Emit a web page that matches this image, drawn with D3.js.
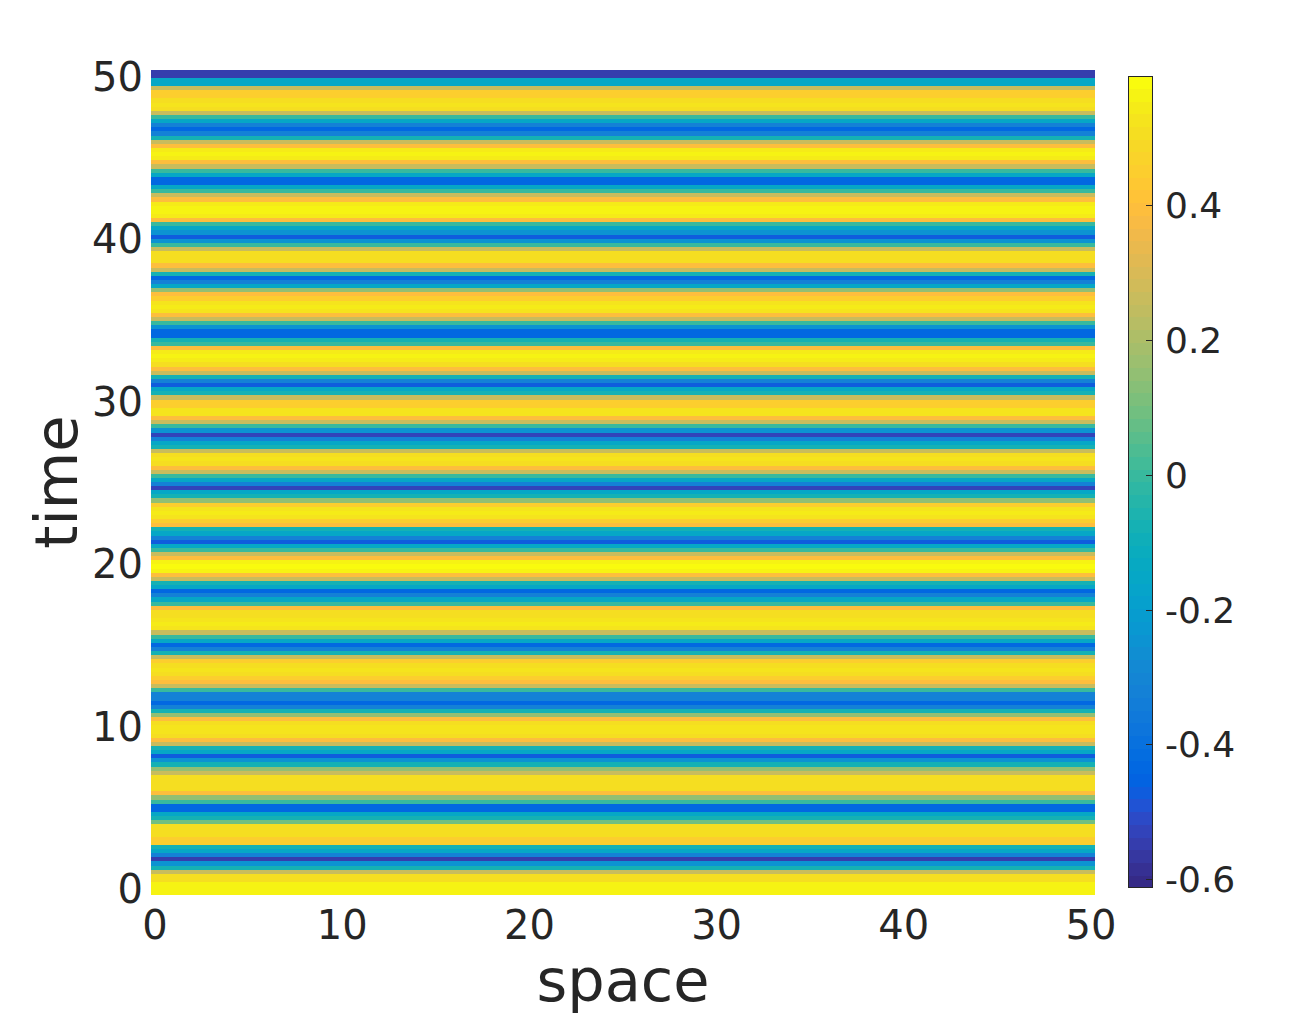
<!DOCTYPE html>
<html lang="en">
<head>
  <meta charset="UTF-8">
  <title>space-time plot</title>
  <script src="https://d3js.org/d3.v7.min.js"></script>
  <style>
    body { margin: 0; background: #fff; }
    svg text { font-family: "DejaVu Sans", sans-serif; fill: #262626; }
  </style>
</head>
<body>
<svg id="chart" width="1296" height="1020"></svg>
<script>
// u(t) for each row of the image, read top row first (t = 50 down to t = 0)
const uByRow = [
  -0.55, -0.55, -0.15, -0.15, 0.27, 0.45, 0.45, 0.5, 0.52, 0.5,
  0.27, 0.0, -0.15, -0.33, -0.43, -0.33, -0.08, 0.27, 0.4, 0.55,
  0.57, 0.55, 0.4, 0.27, 0.0, -0.15, -0.43, -0.43, -0.15, 0.0,
  0.27, 0.4, 0.55, 0.57, 0.57, 0.55, 0.4, 0.0, -0.15, -0.25,
  -0.47, -0.25, 0.0, 0.27, 0.5, 0.5, 0.5, 0.4, 0.27, -0.08,

  -0.43, -0.33, -0.15, 0.15, 0.4, 0.45, 0.53, 0.55, 0.53, 0.4,
  0.27, 0.0, -0.25, -0.43, -0.43, -0.08, 0.0, 0.4, 0.55, 0.57,
  0.55, 0.5, 0.4, 0.27, -0.08, -0.33, -0.47, -0.15, -0.08, 0.27,
  0.45, 0.45, 0.53, 0.53, 0.4, 0.27, 0.0, -0.25, -0.52, -0.33,
  -0.15, -0.08, 0.27, 0.5, 0.52, 0.5, 0.4, 0.27, 0.0, -0.15,

  -0.33, -0.52, -0.15, -0.08, 0.15, 0.45, 0.53, 0.55, 0.53, 0.45,
  0.4, -0.08, -0.15, -0.33, -0.47, -0.15, 0.0, 0.27, 0.4, 0.57,
  0.58, 0.57, 0.4, 0.27, -0.08, -0.15, -0.43, -0.33, -0.15, 0.0,
  0.4, 0.5, 0.5, 0.53, 0.55, 0.53, 0.27, 0.0, -0.15, -0.43,
  -0.33, -0.08, 0.27, 0.45, 0.5, 0.52, 0.5, 0.45, 0.4, 0.27,

  0.0, -0.33, -0.33, -0.43, -0.33, -0.08, 0.15, 0.4, 0.5, 0.52,
  0.52, 0.5, 0.4, 0.27, -0.08, -0.15, -0.47, -0.25, -0.08, 0.15,
  0.27, 0.5, 0.5, 0.5, 0.5, 0.4, 0.15, 0.0, -0.43, -0.43,
  -0.15, -0.08, 0.1, 0.5, 0.5, 0.5, 0.45, 0.45, -0.08, -0.15,
  -0.33, -0.55, -0.25, -0.08, 0.27, 0.5, 0.5, 0.57, 0.57, 0.57
];

// image extent in data units (cells hang a little past the axis limits)
const spaceExtent = [-0.2, 50.2];
const timeExtent = [-0.4, 50.4];

const xTicks = [0, 10, 20, 30, 40, 50];
const yTicks = [0, 10, 20, 30, 40, 50];
const cLimits = [-0.613, 0.592];
const cTicks = [-0.6, -0.4, -0.2, 0, 0.2, 0.4];
const cTickLabels = ["-0.6", "-0.4", "-0.2", "0", "0.2", "0.4"];

// parula(64)
const parula = [
  [0.2081,0.1663,0.5292],[0.2116,0.1898,0.5777],[0.2123,0.2138,0.6270],[0.2081,0.2386,0.6771],
  [0.1959,0.2645,0.7279],[0.1707,0.2919,0.7792],[0.1253,0.3242,0.8303],[0.0591,0.3598,0.8683],
  [0.0117,0.3875,0.8820],[0.0060,0.4086,0.8828],[0.0165,0.4266,0.8786],[0.0329,0.4430,0.8720],
  [0.0498,0.4586,0.8641],[0.0629,0.4737,0.8554],[0.0723,0.4887,0.8467],[0.0779,0.5040,0.8384],
  [0.0793,0.5200,0.8312],[0.0749,0.5375,0.8263],[0.0641,0.5570,0.8240],[0.0488,0.5772,0.8228],
  [0.0343,0.5966,0.8199],[0.0265,0.6137,0.8135],[0.0239,0.6287,0.8038],[0.0231,0.6418,0.7913],
  [0.0228,0.6535,0.7768],[0.0267,0.6642,0.7607],[0.0384,0.6743,0.7436],[0.0590,0.6838,0.7254],
  [0.0843,0.6928,0.7062],[0.1133,0.7015,0.6859],[0.1453,0.7098,0.6646],[0.1801,0.7177,0.6424],
  [0.2178,0.7250,0.6193],[0.2586,0.7317,0.5954],[0.3022,0.7376,0.5712],[0.3482,0.7424,0.5473],
  [0.3953,0.7459,0.5244],[0.4420,0.7481,0.5033],[0.4871,0.7491,0.4840],[0.5300,0.7491,0.4661],
  [0.5709,0.7485,0.4494],[0.6099,0.7473,0.4337],[0.6473,0.7456,0.4188],[0.6834,0.7435,0.4044],
  [0.7184,0.7411,0.3905],[0.7525,0.7384,0.3768],[0.7858,0.7356,0.3633],[0.8185,0.7327,0.3498],
  [0.8507,0.7299,0.3360],[0.8824,0.7274,0.3217],[0.9139,0.7258,0.3063],[0.9450,0.7261,0.2886],
  [0.9739,0.7314,0.2666],[0.9938,0.7455,0.2403],[0.9990,0.7653,0.2164],[0.9955,0.7861,0.1967],
  [0.9880,0.8066,0.1794],[0.9789,0.8271,0.1633],[0.9697,0.8481,0.1475],[0.9626,0.8705,0.1309],
  [0.9589,0.8949,0.1132],[0.9598,0.9218,0.0948],[0.9661,0.9514,0.0755],[0.9763,0.9831,0.0538]
].map(c => d3.rgb(c[0] * 255, c[1] * 255, c[2] * 255).formatHex());

const svg = d3.select("#chart");

const x = d3.scaleLinear().domain([0, 50]).range([155, 1091]);
const y = d3.scaleLinear().domain([0, 50]).range([888, 76]);
const color = d3.scaleQuantize().domain(cLimits).range(parula);

// image rows
const dt = (timeExtent[1] - timeExtent[0]) / uByRow.length;
svg.append("g")
  .attr("shape-rendering", "crispEdges")
  .selectAll("rect")
  .data(uByRow)
  .join("rect")
  .attr("x", x(spaceExtent[0]))
  .attr("width", x(spaceExtent[1]) - x(spaceExtent[0]))
  .attr("y", (d, i) => y(timeExtent[1] - i * dt))
  .attr("height", (d, i) => y(timeExtent[1] - (i + 1) * dt) - y(timeExtent[1] - i * dt) + 0.3)
  .attr("fill", d => color(d));

// tick labels
svg.append("g").selectAll("text")
  .data(xTicks)
  .join("text")
  .attr("x", d => x(d))
  .attr("y", 939)
  .attr("text-anchor", "middle")
  .attr("font-size", 40)
  .text(d => d);

svg.append("g").selectAll("text")
  .data(yTicks)
  .join("text")
  .attr("x", 143)
  .attr("y", d => y(d) + 15)
  .attr("text-anchor", "end")
  .attr("font-size", 40)
  .text(d => d);

// axis labels
svg.append("text")
  .attr("x", (x(0) + x(50)) / 2)
  .attr("y", 1001)
  .attr("text-anchor", "middle")
  .attr("font-size", 59)
  .text("space");

svg.append("text")
  .attr("transform", `translate(77,${(y(0) + y(50)) / 2}) rotate(-90)`)
  .attr("text-anchor", "middle")
  .attr("font-size", 59)
  .text("time");

// colorbar
const cb = { x: 1128, w: 25 };
const cy = d3.scaleLinear().domain(cLimits).range([888, 76]);
const step = (cLimits[1] - cLimits[0]) / parula.length;
const cbar = svg.append("g");
cbar.append("g")
  .attr("shape-rendering", "crispEdges")
  .selectAll("rect")
  .data(parula)
  .join("rect")
  .attr("x", cb.x)
  .attr("width", cb.w)
  .attr("y", (d, i) => cy(cLimits[0] + (i + 1) * step))
  .attr("height", (d, i) => cy(cLimits[0] + i * step) - cy(cLimits[0] + (i + 1) * step) + 0.3)
  .attr("fill", d => d);

cbar.append("rect")
  .attr("x", cb.x + 0.5)
  .attr("y", cy(cLimits[1]) + 0.5)
  .attr("width", cb.w - 1)
  .attr("height", cy(cLimits[0]) - cy(cLimits[1]) - 1)
  .attr("fill", "none")
  .attr("stroke", "#262626")
  .attr("stroke-width", 1);

cbar.selectAll("line")
  .data(cTicks)
  .join("line")
  .attr("x1", cb.x + cb.w - 7)
  .attr("x2", cb.x + cb.w)
  .attr("y1", d => Math.round(cy(d)) + 0.5)
  .attr("y2", d => Math.round(cy(d)) + 0.5)
  .attr("stroke", "#262626");

cbar.selectAll("text")
  .data(cTicks)
  .join("text")
  .attr("x", 1165)
  .attr("y", d => cy(d) + 13)
  .attr("font-size", 36)
  .text((d, i) => cTickLabels[i]);
</script>
</body>
</html>
